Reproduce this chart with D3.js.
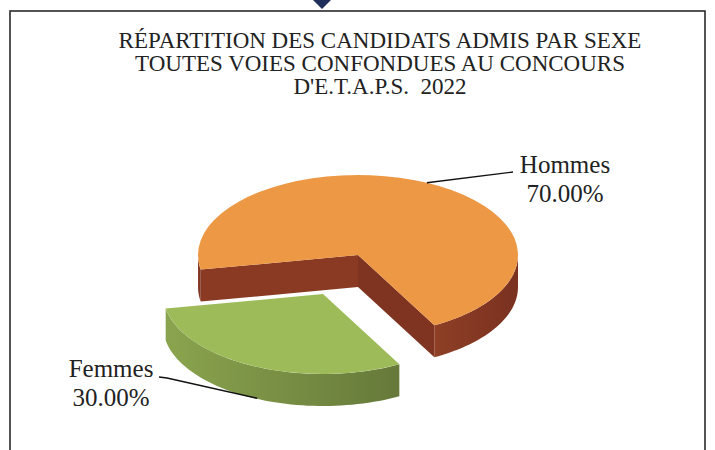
<!DOCTYPE html>
<html lang="fr">
<head>
  <meta charset="UTF-8">
  <title>Répartition par sexe</title>
  <style>
    body { margin: 0; background: #fff; }
    text { font-family: "Liberation Serif", "DejaVu Serif", serif; fill: #222; }
  </style>
</head>
<body>
  <svg id="svg" width="715" height="450"></svg>

  <script src="https://d3js.org/d3.v7.min.js"></script>
  <script>
    const categories = ['Hommes', 'Femmes']
    const values = [70, 30]
    const valueLabels = ['70.00%', '30.00%']
    const titleLines = [
      'RÉPARTITION DES CANDIDATS ADMIS PAR SEXE',
      'TOUTES VOIES CONFONDUES AU CONCOURS',
      "D'E.T.A.P.S.  2022"
    ]

    const svg = d3.select('#svg')

    // frame + small arrow on top
    svg.append('rect')
      .attr('x', 10).attr('y', 11)
      .attr('width', 695).attr('height', 460)
      .attr('fill', 'none')
      .attr('stroke', '#2a2a2a')
      .attr('stroke-width', 1.6)
    svg.append('path')
      .attr('d', 'M313,0 L331,0 L322,9 Z')
      .attr('fill', '#1f2f5a')

    svg.append('g').selectAll('text')
      .data(titleLines)
      .enter()
      .append('text')
      .attr('x', 380)
      .attr('y', (d, i) => 48 + i * 23)
      .attr('text-anchor', 'middle')
      .style('font-size', '23px')
      .style('white-space', 'pre')
      .text(d => d)

    // 3D pie geometry
    const cx = 358, cy = 255, rx = 160, k = 0.5, depth = 32
    const deg = Math.PI / 180
    const pie = d3.pie().sort(null)
      .startAngle(259.5 * deg)
      .endAngle(619.5 * deg)
    const arcs = pie(values)

    const topFill = ['#ec9844', '#9dbb59']
    const explode = [[0, 0], [-35, 39]]

    const defs = svg.append('defs')
    const gradients = [
      ['#8e3f25', '#7a3120'],
      ['#8aa44e', '#66793a']
    ]
    gradients.forEach((c, i) => {
      const g = defs.append('linearGradient').attr('id', 'side' + i)
        .attr('x1', '0%').attr('x2', '100%').attr('y1', '0%').attr('y2', '0%')
      g.append('stop').attr('offset', '0%').attr('stop-color', c[0])
      g.append('stop').attr('offset', '100%').attr('stop-color', c[1])
    })

    const pt = (a, r, off) => [cx + off[0] + r * Math.sin(a), cy + off[1] - r * Math.cos(a) * k]

    function outerWall(a0, a1, off) {
      const n = Math.max(2, Math.ceil((a1 - a0) / (2 * deg)))
      const angs = d3.range(n + 1).map(i => a0 + (a1 - a0) * i / n)
      const top = angs.map(a => pt(a, rx, off))
      const bot = angs.map(a => pt(a, rx, off)).map(p => [p[0], p[1] + depth]).reverse()
      return d3.line()(top.concat(bot)) + 'Z'
    }

    function radialWall(a, off) {
      const c = pt(0, 0, off), e = pt(a, rx, off)
      return d3.line()([c, e, [e[0], e[1] + depth], [c[0], c[1] + depth]]) + 'Z'
    }

    // visible parts of the outer wall: angle range (90°, 270°) modulo 360
    function frontRanges(a0, a1) {
      const out = []
      for (let t = -1; t <= 2; t++) {
        const lo = Math.max(a0, 90 * deg + t * 360 * deg)
        const hi = Math.min(a1, 270 * deg + t * 360 * deg)
        if (hi > lo) out.push([lo, hi])
      }
      return out
    }

    const g = svg.append('g')
    arcs.forEach((d, i) => {
      const off = explode[i]
      const sg = g.append('g')
      if (i === 0) {
        sg.append('path').attr('d', radialWall(d.startAngle, off)).attr('fill', '#8a3a23')
        sg.append('path').attr('d', radialWall(d.endAngle, off)).attr('fill', '#7f3421')
      }
      frontRanges(d.startAngle, d.endAngle).forEach(r => {
        sg.append('path').attr('d', outerWall(r[0], r[1], off))
          .attr('fill', `url(#side${i})`)
      })
      sg.append('path')
        .attr('d', d3.arc().innerRadius(0).outerRadius(rx)(d))
        .attr('transform', `translate(${cx + off[0]},${cy + off[1]}) scale(1,${k})`)
        .attr('fill', topFill[i])
    })

    // labels with leader lines
    const labelPos = [[565, 173], [111, 377]]
    const leaderStart = [[[513, 172]], [[159, 377], [167, 378]]]
    arcs.forEach((d, i) => {
      const mid = (d.startAngle + d.endAngle) / 2
      const p = pt(mid, rx, explode[i])
      const anchor = i === 0 ? p : [p[0] + 3, p[1] + depth]
      svg.append('path')
        .attr('d', d3.line()(leaderStart[i].concat([anchor])))
        .attr('fill', 'none')
        .attr('stroke', '#111')
        .attr('stroke-width', 1.4)
      const t = svg.append('text')
        .attr('x', labelPos[i][0])
        .attr('y', labelPos[i][1])
        .attr('text-anchor', 'middle')
        .style('font-size', '25px')
      t.append('tspan').text(categories[i])
      t.append('tspan').attr('x', labelPos[i][0]).attr('dy', 29).text(valueLabels[i])
    })
  </script>
</body>
</html>
